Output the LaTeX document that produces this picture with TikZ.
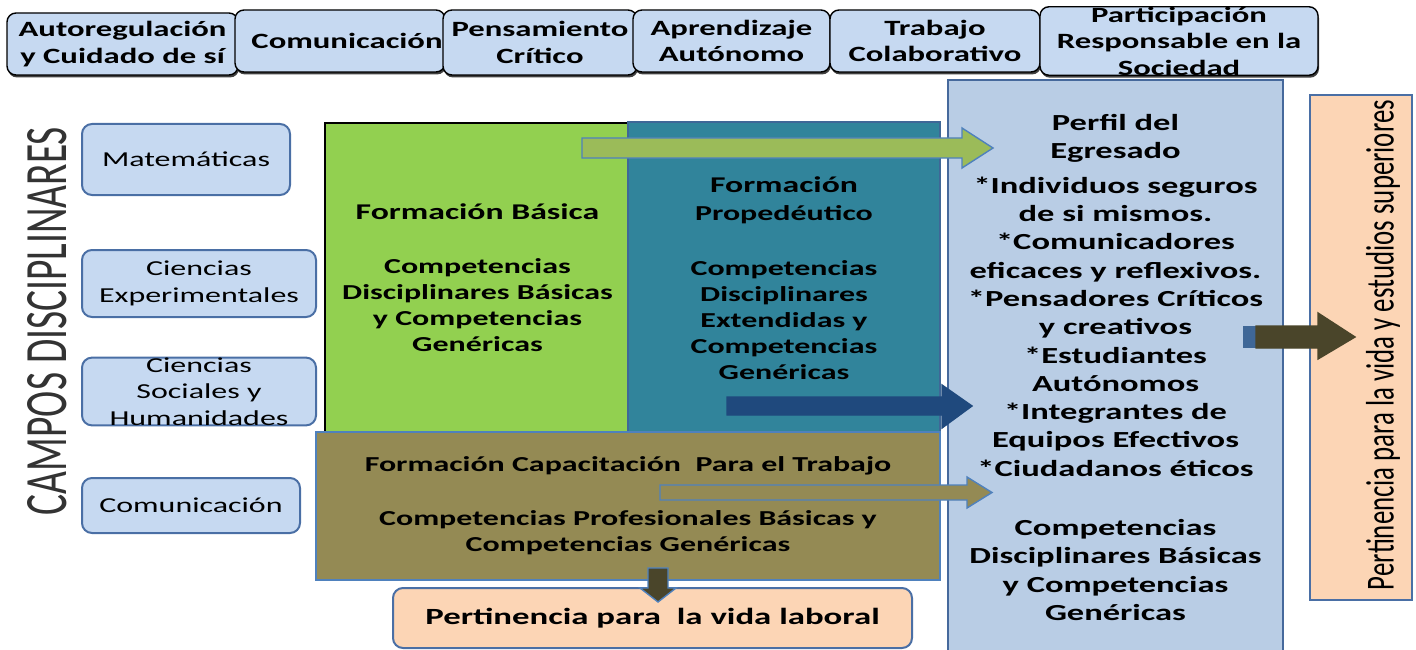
\documentclass[tikz,border=0pt]{standalone}
\usepackage{fontspec}
\usepackage{graphicx}
\setmainfont{Carlito}[FakeStretch=1.5]
\newfontfamily\plainf{Carlito}
\usetikzlibrary{shadows}
\definecolor{lbox}{HTML}{C6D9F1}
\definecolor{lborder}{HTML}{4A6FA5}
\definecolor{grn}{HTML}{92D050}
\definecolor{teal2}{HTML}{31849B}
\definecolor{olive2}{HTML}{948A54}
\definecolor{perfil}{HTML}{B9CDE5}
\definecolor{pborder}{HTML}{46699C}
\definecolor{peach}{HTML}{FCD5B5}
\definecolor{arrgreen}{HTML}{9BBB59}
\definecolor{arrblue}{HTML}{1F497D}
\definecolor{arrbrown}{HTML}{4A452A}
\definecolor{outl}{HTML}{4F81BD}
\begin{document}
\begin{tikzpicture}[x=1pt,y=-1pt,
  topbox/.style={rounded corners=9pt, fill=lbox, draw=black, line width=1.4pt, align=center, inner sep=0pt,
    font=\bfseries\fontsize{21.8}{26.5}\selectfont,
    drop shadow={shadow xshift=1pt,shadow yshift=-2.5pt,fill=black!75,opacity=1}},
  leftbox/.style={rounded corners=10pt, fill=lbox, draw=lborder, line width=2pt, align=center, inner sep=0pt,
    font=\fontsize{21.3}{26.5}\selectfont},
  bigbox/.style={line width=2pt, align=center, inner sep=0pt, font=\bfseries\fontsize{21.3}{26}\selectfont},
  blockarrow/.style={line width=1.4pt, line join=miter}
]
\useasboundingbox (0,0) rectangle (1416,650);

% top competences
\node[topbox, minimum width=231, minimum height=62] (t1) at (122.5,44) {Autoregulación\\y Cuidado de sí};
\node[topbox, minimum width=210, minimum height=62] (t2) at (340,41) {\hspace*{14pt}Comunicación};
\node[topbox, minimum width=194, minimum height=65] (t3) at (540,42.5) {Pensamiento\\Crítico};
\node[topbox, minimum width=197, minimum height=62] (t4) at (731.5,41) {Aprendizaje\\Autónomo};
\node[topbox, minimum width=210, minimum height=62] (t5) at (935,41) {Trabajo\\Colaborativo};
\node[topbox, minimum width=278, minimum height=62] (t6) at (1179,41) {Participación\\Responsable en la\\Sociedad};

% campos disciplinares
\node[rotate=90, inner sep=0pt, text=black!80] (campos) at (47.5,321)
  {\resizebox{388pt}{39pt}{\plainf CAMPOS DISCIPLINARES}};
\node[leftbox, minimum width=208, minimum height=71] (m1) at (186,159.5) {Matemáticas};
\node[leftbox, minimum width=234, minimum height=67] (m2) at (199,283.5) {Ciencias\\Experimentales};
\node[leftbox, minimum width=234, minimum height=67] (m3) at (199,391.5) {Ciencias\\Sociales y\\Humanidades};
\node[leftbox, minimum width=218, minimum height=55] (m4) at (191,505.5) {Comunicación};

% formation blocks
\node[bigbox, fill=grn, draw=black, minimum width=305, minimum height=309] (gb) at (477.5,277.5)
  {\fontsize{22.5}{26}\selectfont Formación Básica\\[28pt]\fontsize{21.3}{26}\selectfont Competencias\\Disciplinares Básicas\\y Competencias\\Genéricas};
\node[bigbox, fill=teal2, draw=outl!80!black, minimum width=312, minimum height=313] (pb) at (784,278.5)
  {\fontsize{22.5}{26}\selectfont Formación\\[2pt]Propedéutico\\[29pt]\fontsize{21.3}{26}\selectfont Competencias\\Disciplinares\\Extendidas y\\Competencias\\Genéricas};
\node[bigbox, fill=olive2, draw=outl, minimum width=624, minimum height=148] (cb) at (628,506)
  {Formación Capacitación\ \ Para el Trabajo\\[28pt]Competencias Profesionales Básicas y\\Competencias Genéricas};

% perfil
\node[bigbox, fill=perfil, draw=pborder, line width=2.5pt, minimum width=335, minimum height=575,
  font=\bfseries\fontsize{23}{28.3}\selectfont] (pf) at (1115.5,367.5)
  {Perfil del\\Egresado\\[6pt]*Individuos seguros\\de si mismos.\\*Comunicadores\\eficaces y reflexivos.\\*Pensadores Críticos\\y creativos\\*Estudiantes\\Autónomos\\*Integrantes de\\Equipos Efectivos\\*Ciudadanos éticos\\[31pt]Competencias\\Disciplinares Básicas\\y Competencias\\Genéricas};

% outcomes
\node[fill=peach, draw=lborder, line width=2.5pt, minimum width=102, minimum height=505, inner sep=0pt] (rb) at (1361,347.5) {};
\node[rotate=90, inner sep=0pt] (rbt) at (1383,345)
  {\resizebox*{490pt}{34pt}{\plainf Pertinencia para la vida y estudios superiores}};
\node[rounded corners=10pt, fill=peach, draw=lborder, line width=2pt, minimum width=519, minimum height=60, inner sep=0pt,
  font=\bfseries\fontsize{23.2}{26}\selectfont] (lab) at (652.5,618) {Pertinencia para\ \ la vida laboral};

% block arrows
\draw[blockarrow, fill=arrgreen, draw=outl] (582,138) -- (962,138) -- (962,128) -- (993,148) -- (962,168) -- (962,158) -- (582,158) -- cycle;
\draw[blockarrow, fill=arrblue, draw=arrblue] (727,397) -- (942,397) -- (942,385) -- (972,406) -- (942,428) -- (942,415) -- (727,415) -- cycle;
\draw[blockarrow, fill=olive2, draw=outl] (660,485) -- (967,485) -- (967,477) -- (992,492.5) -- (967,508) -- (967,500) -- (660,500) -- cycle;
\fill[outl!80!black] (1243,326) rectangle (1258,348);
\draw[blockarrow, fill=arrbrown, draw=arrbrown] (1256,326) -- (1318,326) -- (1318,313) -- (1355,337) -- (1318,359) -- (1318,348) -- (1256,348) -- cycle;
\draw[blockarrow, fill=arrbrown, draw=outl] (648,568) -- (668,568) -- (668,588) -- (676,588) -- (658,602) -- (640,588) -- (648,588) -- cycle;
\end{tikzpicture}
\end{document}
